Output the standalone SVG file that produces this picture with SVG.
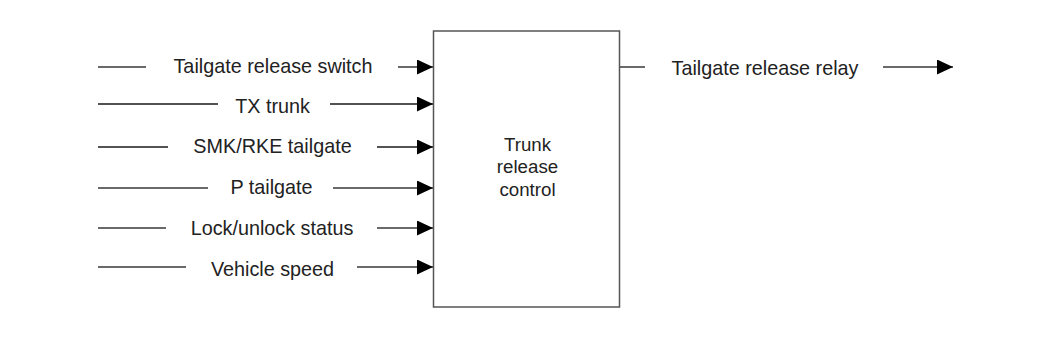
<svg xmlns="http://www.w3.org/2000/svg" width="1051" height="338" viewBox="0 0 1051 338">
<style>
.lbl{font-family:"Liberation Sans",Arial,sans-serif;font-size:19.8px;fill:#222;text-anchor:middle}
.ctr{font-family:"Liberation Sans",Arial,sans-serif;font-size:18.7px;fill:#222;text-anchor:middle}
.w{stroke:#6a6a6a;stroke-width:2;fill:none}
.d{stroke:#1a1a1a;stroke-width:1.6;fill:none}
.box{fill:#fff;stroke:#555;stroke-width:1.5}
</style>
<defs>
<marker id="ah" markerUnits="userSpaceOnUse" markerWidth="16" markerHeight="15" refX="16" refY="7.5" orient="auto">
<path d="M0,0 L16,7.5 L0,15 Z" fill="#000"/>
</marker>
</defs>
<rect width="1051" height="338" fill="#fff"/>
<g id="connectors">
<line class="w" x1="98" y1="67" x2="146" y2="67"/>
<line class="w" x1="398" y1="67" x2="433" y2="67" marker-end="url(#ah)"/>
<line class="d" x1="98" y1="104" x2="218" y2="104"/>
<line class="d" x1="330" y1="104" x2="433" y2="104" marker-end="url(#ah)"/>
<line class="d" x1="98" y1="147" x2="168" y2="147"/>
<line class="d" x1="377" y1="147" x2="433" y2="147" marker-end="url(#ah)"/>
<line class="w" x1="98" y1="188" x2="208" y2="188"/>
<line class="w" x1="333" y1="188" x2="433" y2="188" marker-end="url(#ah)"/>
<line class="w" x1="98" y1="228" x2="166" y2="228"/>
<line class="w" x1="377" y1="228" x2="433" y2="228" marker-end="url(#ah)"/>
<line class="w" x1="98" y1="267" x2="186" y2="267"/>
<line class="w" x1="357" y1="267" x2="433" y2="267" marker-end="url(#ah)"/>
<line class="w" x1="620" y1="67" x2="645" y2="67"/>
<line class="w" x1="883" y1="67" x2="953" y2="67" marker-end="url(#ah)"/>
</g>
<g id="labels">
<text class="lbl" x="273" y="72.5">Tailgate release switch</text>
<text class="lbl" x="272.5" y="113">TX trunk</text>
<text class="lbl" x="272.5" y="153">SMK/RKE tailgate</text>
<text class="lbl" x="271.5" y="194">P tailgate</text>
<text class="lbl" x="272" y="235">Lock/unlock status</text>
<text class="lbl" x="272.5" y="275.5">Vehicle speed</text>
<text class="lbl" x="765" y="75">Tailgate release relay</text>
</g>
<g id="trunk-release-control">
<rect class="box" x="433.5" y="31" width="186" height="276"/>
<text class="ctr" x="527.5" y="150.5">Trunk</text>
<text class="ctr" x="527.5" y="173">release</text>
<text class="ctr" x="527.5" y="195.5">control</text>
</g>
</svg>
